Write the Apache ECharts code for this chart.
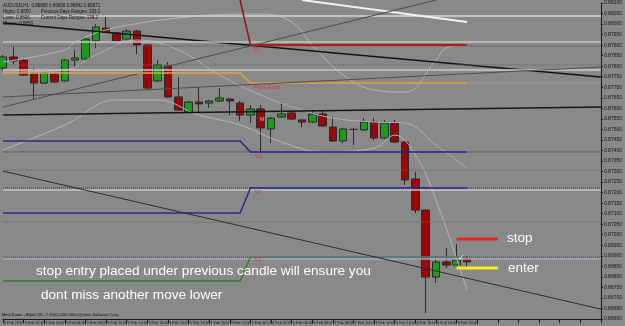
<!DOCTYPE html>
<html><head><meta charset="utf-8">
<script src="https://cdn.jsdelivr.net/npm/echarts@6/dist/echarts.min.js"></script>
<style>html,body{margin:0;padding:0;background:#898989;}#c{width:625px;height:326px;}</style>
</head><body><div id="c"></div>
<script>
// ---- axis / tick labels ----
const timeLabels = ["3 Feb 2010","3 Feb 02:00","3 Feb 04:00","3 Feb 06:00","3 Feb 08:00","3 Feb 10:00",
  "3 Feb 12:00","3 Feb 14:00","3 Feb 16:00","3 Feb 18:00","3 Feb 20:00","3 Feb 22:00",
  "4 Feb 00:00","4 Feb 02:00","4 Feb 04:00","4 Feb 06:00","4 Feb 08:00","4 Feb 10:00",
  "4 Feb 12:00","4 Feb 14:00","4 Feb 16:00","4 Feb 18:00","4 Feb 20:00"];
const slotCount = 59;
const priceMin = 0.8660, priceMax = 0.8810, priceStep = 0.0005;

// ---- H1 candles ----
const opens  = [0.87791,0.87844,0.87829,0.87763,0.87720,0.87763,0.87730,0.87829,0.87834,0.87920,
                0.87981,0.87958,0.87929,0.87967,0.87901,0.87730,0.87801,0.87654,0.87583,0.87630,
                0.87625,0.87635,0.87644,0.87625,0.87568,0.87597,0.87502,0.87559,0.87578,0.87545,
                0.87535,0.87573,0.87511,0.87445,0.87500,0.87497,0.87535,0.87459,0.87530,0.87440,
                0.87265,0.87117,0.86799,0.86871,0.86856,0.86885];
const closes = [0.87844,0.87825,0.87758,0.87720,0.87768,0.87725,0.87829,0.87839,0.87929,0.87986,
                0.87962,0.87920,0.87967,0.87901,0.87696,0.87806,0.87654,0.87592,0.87630,0.87621,
                0.87635,0.87649,0.87635,0.87568,0.87597,0.87507,0.87554,0.87573,0.87549,0.87535,
                0.87573,0.87516,0.87445,0.87502,0.87500,0.87535,0.87459,0.87530,0.87440,0.87260,
                0.87117,0.86799,0.86871,0.86856,0.86880,0.86871];
const lows   = [0.87782,0.87806,0.87753,0.87640,0.87716,0.87720,0.87725,0.87791,0.87829,0.87886,
                0.87958,0.87915,0.87924,0.87858,0.87687,0.87725,0.87649,0.87587,0.87578,0.87578,
                0.87602,0.87630,0.87568,0.87540,0.87530,0.87388,0.87435,0.87554,0.87545,0.87511,
                0.87530,0.87511,0.87440,0.87435,0.87426,0.87492,0.87450,0.87454,0.87435,0.87236,
                0.87103,0.86628,0.86771,0.86842,0.86856,0.86842];
const highs  = [0.87853,0.87891,0.87839,0.87791,0.87772,0.87768,0.87834,0.87877,0.87934,0.88000,
                0.88034,0.87962,0.87977,0.87972,0.87905,0.87829,0.87820,0.87749,0.87635,0.87701,
                0.87640,0.87696,0.87649,0.87635,0.87616,0.87616,0.87559,0.87630,0.87587,0.87549,
                0.87592,0.87592,0.87559,0.87507,0.87507,0.87554,0.87554,0.87545,0.87545,0.87445,
                0.87298,0.87122,0.86899,0.86937,0.86956,0.86899];

// ---- indicator / object lines: [slot index, price] ----
const whiteTop      = [[-0.2,0.88038],[58,0.88038]];
const whiteDiag     = [[29.05,0.88114],[45.06,0.88010]];
const blackDiagTop  = [[-0.2,0.88005],[58,0.87749]];
const redSteep      = [[23.01,0.88114],[23.97,0.87901]];
const r1Solid       = [[23.97,0.87901],[45.06,0.87901]];
const r1Dotted      = [[-0.2,0.87896],[58,0.87896]];
const lightA        = [[-0.2,0.87915],[58,0.87915]];
const grayDiagSteep = [[-0.2,0.87606],[41.70,0.88114]];
const dottedA       = [[-0.2,0.87806],[58,0.87806]];
const lightB        = [[-0.2,0.87782],[58,0.87782]];
const pivotSolid    = [[-0.2,0.87768],[22.82,0.87768],[23.97,0.87720],[45.06,0.87720]];
const pivotDotted   = [[45.06,0.87720],[58,0.87720]];
const grayDiagRise  = [[-0.2,0.87654],[58,0.87796]];
const blackFlat     = [[-0.2,0.87568],[58,0.87606]];
const s1Solid       = [[-0.2,0.87445],[22.82,0.87445],[23.97,0.87393],[45.06,0.87393]];
const s1Dotted      = [[-0.2,0.87393],[58,0.87393]];
const dottedB       = [[-0.2,0.87307],[58,0.87307]];
const lightC        = [[-0.2,0.87212],[58,0.87212]];
const s2Solid       = [[-0.2,0.87103],[23.10,0.87103],[23.97,0.87222],[45.06,0.87222]];
const s2Dotted      = [[-0.2,0.87222],[58,0.87222]];
const dottedC       = [[-0.2,0.87060],[58,0.87060]];
const lightD        = [[-0.2,0.86885],[58,0.86885]];
const s3Left        = [[-0.2,0.86780],[23.10,0.86780],[23.97,0.86894]];
const s3Right       = [[23.97,0.86894],[45.06,0.86894]];
const s3Dotted      = [[-0.2,0.86894],[58,0.86894]];
const blackDiagLow  = [[-0.2,0.87302],[58,0.86647]];
const bandUpper = [[0,0.87820],[5.56,0.87877],[7.48,0.87915],[10.35,0.87972],[14.19,0.88010],[17.06,0.88029],
  [19.94,0.88043],[24.73,0.88048],[27.61,0.88010],[30.49,0.87901],[33.36,0.87758],[36.24,0.87687],
  [39.11,0.87677],[41.51,0.87829],[43.43,0.87886],[45.06,0.87901]];
const bandMiddle = [[0,0.87772],[5.56,0.87782],[9.40,0.87853],[13.23,0.87924],[17.06,0.87877],[20.90,0.87758],
  [24.73,0.87663],[28.57,0.87592],[32.40,0.87554],[36.24,0.87535],[39.11,0.87530],[41.99,0.87426],[45.06,0.87317]];
const bandLower = [[0,0.87402],[5.56,0.87521],[10.64,0.87640],[15.15,0.87640],[18.98,0.87568],[22.82,0.87521],
  [26.65,0.87440],[31.44,0.87393],[36.24,0.87411],[38.16,0.87473],[40.07,0.87378],[41.99,0.87165],[45.06,0.86738]];
const stopLine  = [[44.00,0.86980],[47.93,0.86980]];
const enterLine = [[44.00,0.86842],[47.93,0.86842]];

// price boxes on the right scale
const boxPrices = [0.88038,0.87901,0.87806,0.87720,0.87393,0.87222,0.86894,0.86880];
const boxBg     = ['#a4a4a4','#b41c1c','#a0a0a0','#a8d850','#28288c','#28288c','#3a3a96','#000000'];
const boxFg     = ['#111','#fff','#111','#111','#fff','#fff','#fff','#fff'];

const categories = Array.from({length: slotCount}, (_, i) => 'h' + i);
const FONT = '"Liberation Sans", Arial, sans-serif';

function ln(data, color, width, type, smooth, z) {
  return {type:'line', data, symbol:'none', showSymbol:false, clip:false, silent:true, animation:false,
    smooth: smooth || false, z: z || 3,
    lineStyle:{color, width, type: type || 'solid'}};
}

const chart = echarts.init(document.getElementById('c'), null, {renderer:'canvas'});
chart.setOption({
  backgroundColor:'#898989',
  animation:false,
  grid:{left:2, right:18, top:3, bottom:7},
  xAxis:{type:'category', data:categories, boundaryGap:false,
    axisLine:{lineStyle:{color:'#1a1a1a', width:1}},
    axisTick:{show:true, length:4, interval:1, lineStyle:{color:'#1a1a1a'}},
    axisLabel:{interval:0, fontSize:3.8, color:'#111', fontFamily:FONT, align:'left', margin:1.5,
      formatter:(v, i) => (i % 2 === 0 && i / 2 < timeLabels.length) ? ' ' + timeLabels[i / 2] : ''},
    splitLine:{show:false}},
  yAxis:{type:'value', position:'right', min:priceMin, max:priceMax, interval:priceStep,
    axisLine:{show:true, lineStyle:{color:'#1a1a1a'}},
    axisTick:{show:true, length:2, lineStyle:{color:'#1a1a1a'}},
    axisLabel:{fontSize:5, color:'#111', fontFamily:FONT, margin:3, formatter:v => v.toFixed(5)},
    splitLine:{show:false}},
  series:[
    {type:'candlestick', z:2, clip:false, barWidth:8, silent:true,
      data: opens.map((o, i) => [o, closes[i], lows[i], highs[i]]),
      itemStyle:{color:'#1f9a1f', color0:'#990808', borderColor:'#2a2a2a', borderColor0:'#2a2a2a', borderWidth:1},
      markLine:{symbol:['none','none'], silent:true, animation:false, lineStyle:{opacity:0},
        label:{position:'end', distance:1, fontSize:5, fontFamily:FONT, padding:[1,2,1,2]},
        data: boxPrices.map((p, i) => ({yAxis:p,
          label:{formatter: p.toFixed(5), backgroundColor: boxBg[i], color: boxFg[i]}}))}},
    ln(bandUpper,'#b6b6b6',1,'solid',0.4),
    ln(bandMiddle,'#b0b0b0',1,'solid',0.4),
    ln(bandLower,'#b6b6b6',1,'solid',0.4),
    ln(whiteTop,'#d6d6d6',1.5),
    ln(whiteDiag,'#f2f2f2',2),
    ln(blackDiagTop,'#141414',1.5),
    ln(lightA,'#c4c4c4',1.5),
    ln(r1Dotted,'#a83030',1,'dotted'),
    ln(redSteep,'#8e1414',1.5),
    ln(r1Solid,'#b41c1c',2),
    ln(grayDiagSteep,'#4a4a4a',1),
    ln(dottedA,'#666',1,'dotted'),
    ln(lightB,'#c8c8c8',1.5),
    ln(pivotSolid,'#e6a040',1.5),
    ln(pivotDotted,'#d0b040',1,'dotted'),
    ln(grayDiagRise,'#4e4e4e',1),
    ln(blackFlat,'#151515',1.5),
    ln(s1Dotted,'#33336e',1,'dotted'),
    ln(s1Solid,'#28288c',1.5),
    ln(dottedB,'#666',1,'dotted'),
    ln(lightC,'#c4c4c4',1.5),
    ln(s2Dotted,'#33336e',1,'dotted'),
    ln(s2Solid,'#28288c',1.5),
    ln(dottedC,'#666',1,'dotted'),
    ln(lightD,'#a8a8b8',1.5),
    ln(s3Dotted,'#3a3a80',1,'dotted'),
    ln(s3Left,'#2e7e2e',1.5),
    ln(s3Right,'#5a7a74',1.5),
    ln(blackDiagLow,'#2a2a2a',1),
    ln(stopLine,'#e02828',3,'solid',false,5),
    ln(enterLine,'#f0f020',3,'solid',false,5)
  ],
  graphic:[
    {type:'text', z:10, style:{x:3, y:3, text:'AUDUSD,H1  0.86885 0.86899 0.86842 0.86871', fill:'#111', font:'4.5px ' + FONT}},
    {type:'text', z:10, style:{x:3, y:9, text:'Highs: 0.8850        Previous Days Ranges: 109.2', fill:'#111', font:'4.5px ' + FONT}},
    {type:'text', z:10, style:{x:3, y:15, text:'Lows: 0.8806         Current Days Ranges: 139.2', fill:'#111', font:'4.5px ' + FONT}},
    {type:'text', z:10, style:{x:3, y:21, text:'Closes: 0.8853', fill:'#111', font:'4.5px ' + FONT}},
    {type:'text', z:10, style:{x:254, y:46, text:'R1', fill:'#c84040', font:'5.5px ' + FONT}},
    {type:'text', z:10, style:{x:254, y:84, text:'Pivot Point', fill:'#c84040', font:'5.5px ' + FONT}},
    {type:'text', z:10, style:{x:260, y:116, text:'M', fill:'#e8b4b4', font:'5.5px ' + FONT}},
    {type:'text', z:10, style:{x:255, y:153, text:'S1', fill:'#c84040', font:'5.5px ' + FONT}},
    {type:'text', z:10, style:{x:254, y:189, text:'S2', fill:'#c84040', font:'5.5px ' + FONT}},
    {type:'text', z:10, style:{x:254, y:256, text:'S3', fill:'#c84040', font:'5.5px ' + FONT}},
    {type:'text', z:10, style:{x:2, y:313, text:'MetaTrader - Alpari UK, \u00a9 2001-2009 MetaQuotes Software Corp.', fill:'#111', font:'4px ' + FONT}},
    {type:'text', z:10, style:{x:36, y:271, text:'stop entry placed under previous candle will ensure you', fill:'#ffffff', font:'13.6px ' + FONT, verticalAlign:'middle'}},
    {type:'text', z:10, style:{x:41, y:295, text:'dont miss another move lower', fill:'#ffffff', font:'13.6px ' + FONT, verticalAlign:'middle'}},
    {type:'text', z:10, style:{x:507, y:238, text:'stop', fill:'#ffffff', font:'13.5px ' + FONT, verticalAlign:'middle'}},
    {type:'text', z:10, style:{x:508, y:268, text:'enter', fill:'#ffffff', font:'13.5px ' + FONT, verticalAlign:'middle'}},
    {type:'text', z:10, style:{x:458, y:258, text:'\u2713', fill:'#ffffff', font:'bold 8px "DejaVu Sans"', verticalAlign:'middle'}}
  ]
});
</script></body></html>
